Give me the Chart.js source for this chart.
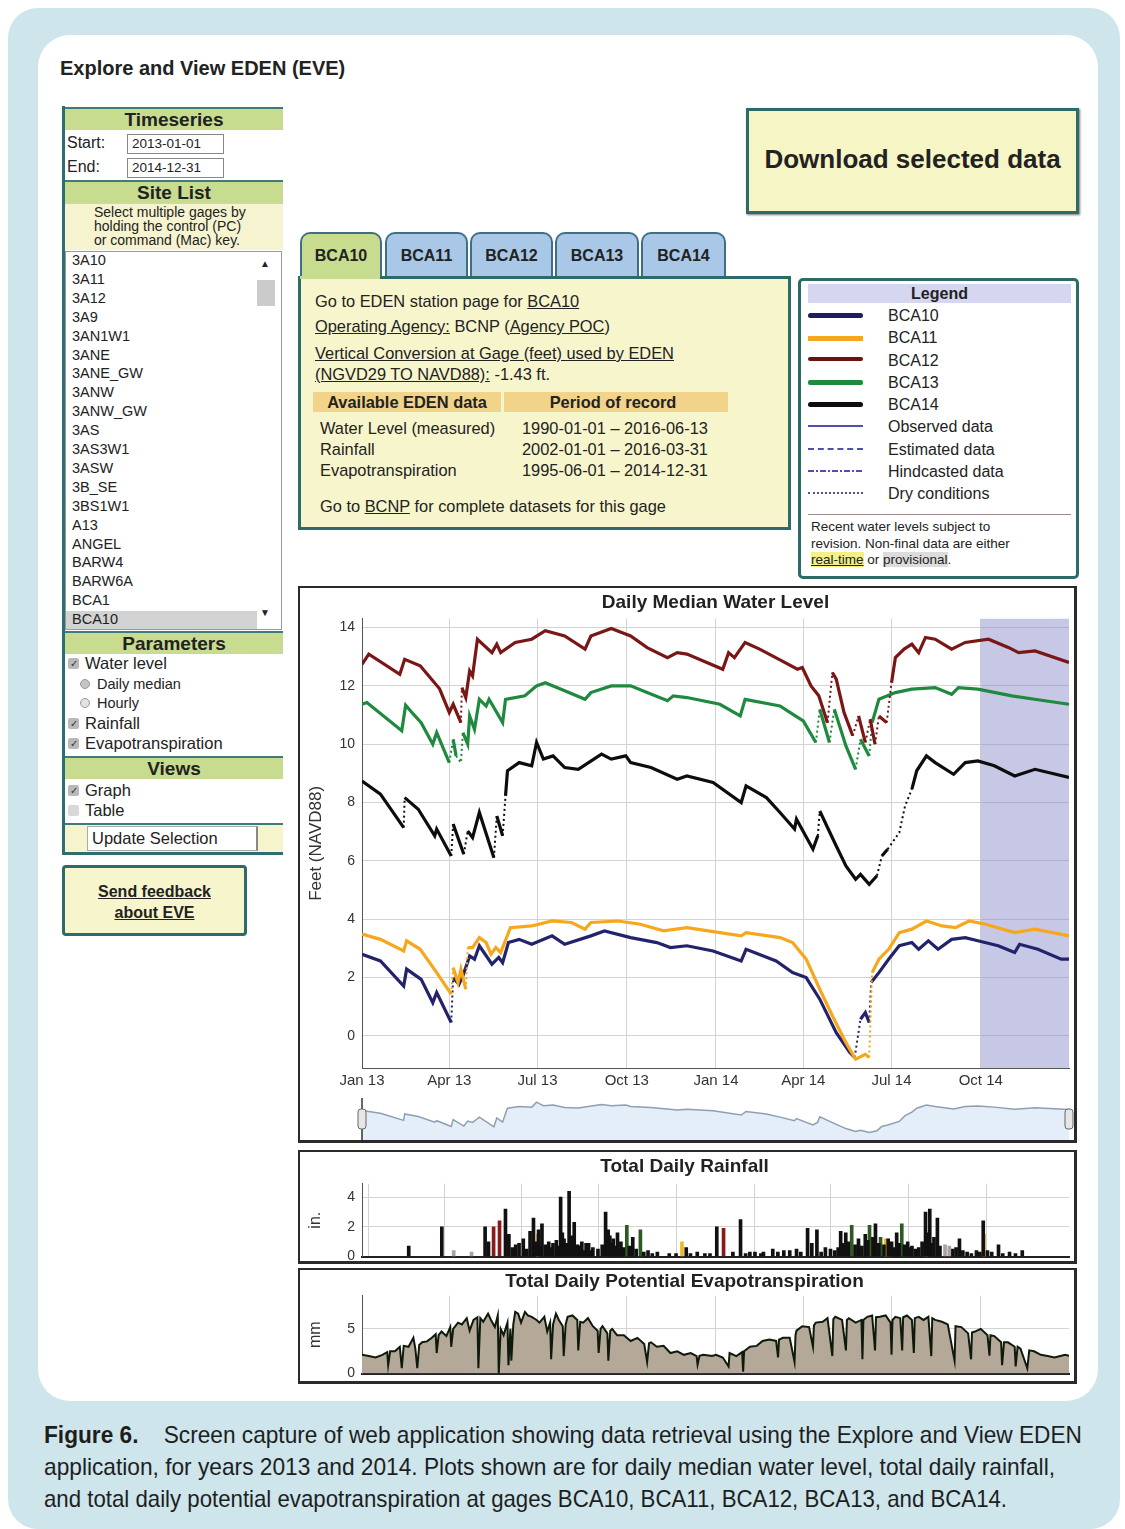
<!DOCTYPE html>
<html>
<head>
<meta charset="utf-8">
<script src="https://cdn.jsdelivr.net/npm/chart.js"></script>
<style>
body { margin: 0; width: 1125px; height: 1529px; position: relative; overflow: hidden; background: #fff;
  font-family: "Liberation Sans", Arial, sans-serif; color: #222; }
div, span.abs, canvas { box-sizing: border-box; }
.abs { position: absolute; }
#frame { left: 8px; top: 8px; width: 1112px; height: 1521px; background: #cde5eb; border-radius: 30px; }
#inner { left: 38px; top: 35px; width: 1060px; height: 1366px; background: #fff; border-radius: 32px; }
#apptitle { left: 60px; top: 57px; font-weight: bold; font-size: 20px; }

.hdr { left: 65px; width: 218px; height: 23px; background: #c8dc8f; border-top: 2px solid #3f7a7c;
  font-weight: bold; font-size: 19px; text-align: center; line-height: 21px; }
.lbl { font-size: 16px; }
.inp { left: 127px; width: 97px; height: 20px; border: 1px solid #888; font-size: 13.5px; line-height: 18px; padding-left: 4px; background: #fff; }
.site { left: 72px; font-size: 14.5px; line-height: 19px; }
.chk { width: 11px; height: 11px; background: #b9b9b9; border-radius: 2px; font-size: 10px; line-height: 11px; color: #333; text-align: center; }
.rad { width: 10px; height: 10px; border-radius: 50%; background: #c4c4c4; border: 1px solid #9a9a9a; }
.par { font-size: 16.5px; }
.sub { font-size: 14.5px; }

.tab { top: 232px; height: 45px; border: 2px solid #3f6f86; border-bottom: none; border-radius: 10px 10px 0 0;
  background: #a9c7e6; font-weight: bold; font-size: 16px; text-align: center; line-height: 44px; }
.info { font-size: 16.4px; white-space: nowrap; }
.u { text-decoration: underline; }
.leg { left: 888px; font-size: 16px; }
.sw { left: 808px; width: 55px; }
.panel { border: 2px solid #2a2a2a; border-right-width: 3px; border-bottom-width: 3px; background: #fff; }
.cap { left: 44px; font-size: 24px; white-space: nowrap; color: #1e1e1e; transform-origin: 0 50%; }
</style>
</head>
<body>
<div id="frame" class="abs"></div>
<div id="inner" class="abs"></div>
<div id="apptitle" class="abs">Explore and View EDEN (EVE)</div>

<!-- sidebar -->
<div class="abs" style="left:62px;top:106px;width:3px;height:749px;background:#2e6e72"></div>
<div class="abs" style="left:62px;top:852px;width:221px;height:3px;background:#2e6e72"></div>
<div class="abs hdr" style="top:107px">Timeseries</div>
<div class="abs lbl" style="left:67px;top:134px">Start:</div>
<div class="abs inp" style="top:134px">2013-01-01</div>
<div class="abs lbl" style="left:67px;top:158px">End:</div>
<div class="abs inp" style="top:158px">2014-12-31</div>
<div class="abs hdr" style="top:180px">Site List</div>
<div class="abs" style="left:65px;top:203px;width:218px;height:47px;background:#f6f4d0;border-top:1px solid #cfd8a8"></div>
<div class="abs" style="left:94px;top:205px;font-size:14px;line-height:14px">Select multiple gages by<br>holding the control (PC)<br>or command (Mac) key.</div>
<div class="abs" style="left:65px;top:251px;width:217px;height:379px;border:1px solid #999;background:#fff"></div>
<div class="abs" style="left:66px;top:611px;width:191px;height:18px;background:#d2d2d2"></div>
<div class="abs" style="left:257px;top:280px;width:18px;height:26px;background:#cbcbcb"></div>
<div class="abs" style="left:260px;top:258px;font-size:10px">&#9650;</div>
<div class="abs" style="left:260px;top:607px;font-size:10px">&#9660;</div>
<div id="sites"></div>
<div class="abs hdr" style="top:631px">Parameters</div>
<div class="abs chk" style="left:68px;top:658px">&#10003;</div>
<div class="abs par" style="left:85px;top:654px">Water level</div>
<div class="abs rad" style="left:80px;top:679px"></div>
<div class="abs sub" style="left:97px;top:676px">Daily median</div>
<div class="abs rad" style="left:80px;top:698px;background:#e2e2e2"></div>
<div class="abs sub" style="left:97px;top:695px">Hourly</div>
<div class="abs chk" style="left:68px;top:718px">&#10003;</div>
<div class="abs par" style="left:85px;top:714px">Rainfall</div>
<div class="abs chk" style="left:68px;top:738px">&#10003;</div>
<div class="abs par" style="left:85px;top:734px">Evapotranspiration</div>
<div class="abs hdr" style="top:756px">Views</div>
<div class="abs chk" style="left:68px;top:785px">&#10003;</div>
<div class="abs par" style="left:85px;top:781px">Graph</div>
<div class="abs chk" style="left:68px;top:805px;background:#d8d8d8"></div>
<div class="abs par" style="left:85px;top:801px">Table</div>
<div class="abs" style="left:65px;top:823px;width:218px;height:29px;background:#f6f4cc;border-top:2px solid #3f7a7c"></div>
<div class="abs" style="left:87px;top:826px;width:171px;height:25px;background:#fff;border:1px solid #aaa;border-right:2px solid #888;font-size:16.5px;line-height:22px;padding-left:4px">Update Selection</div>

<div class="abs" style="left:62px;top:865px;width:185px;height:71px;background:#f6f5cc;border:3px solid #2d6b6b;border-radius:4px;text-align:center;font-weight:bold;font-size:16px;line-height:21px;padding-top:13px"><span class="u">Send feedback</span><br><span class="u">about EVE</span></div>

<!-- download -->
<div class="abs" style="left:746px;top:108px;width:333px;height:106px;background:#f6f5c6;border:3px solid #2d6b6b;box-shadow:1px 1px 2px #777;text-align:center;font-weight:bold;font-size:26px;line-height:96px">Download selected data</div>

<!-- tabs and info -->
<div class="abs tab" style="left:300px;width:82px;background:#c8dc8f;height:47px">BCA10</div>
<div class="abs tab" style="left:385px;width:83px">BCA11</div>
<div class="abs tab" style="left:470px;width:83px">BCA12</div>
<div class="abs tab" style="left:555px;width:84px">BCA13</div>
<div class="abs tab" style="left:641px;width:85px">BCA14</div>
<div class="abs" style="left:298px;top:276px;width:493px;height:254px;background:#f7f5cc;border:3px solid #2d6b6b"></div>
<div class="abs" style="left:300px;top:276px;width:80px;height:3px;background:#c8dc8f"></div>
<div class="abs info" style="left:315px;top:292px">Go to EDEN station page for <span class="u">BCA10</span></div>
<div class="abs info" style="left:315px;top:317px"><span class="u">Operating Agency:</span> BCNP (<span class="u">Agency POC</span>)</div>
<div class="abs info" style="left:315px;top:344px"><span class="u">Vertical Conversion at Gage (feet) used by EDEN</span></div>
<div class="abs info" style="left:315px;top:365px"><span class="u">(NGVD29 TO NAVD88):</span> -1.43 ft.</div>
<div class="abs" style="left:313px;top:392px;width:188px;height:20px;background:#f1d489"></div>
<div class="abs" style="left:504px;top:392px;width:224px;height:20px;background:#f1d489"></div>
<div class="abs info" style="left:313px;top:393px;width:188px;text-align:center;font-weight:bold">Available EDEN data</div>
<div class="abs info" style="left:504px;top:393px;width:218px;text-align:center;font-weight:bold">Period of record</div>
<div class="abs info" style="left:320px;top:418px;line-height:21px">Water Level (measured)<br>Rainfall<br>Evapotranspiration</div>
<div class="abs info" style="left:522px;top:418px;line-height:21px">1990-01-01 &ndash; 2016-06-13<br>2002-01-01 &ndash; 2016-03-31<br>1995-06-01 &ndash; 2014-12-31</div>
<div class="abs info" style="left:320px;top:497px">Go to <span class="u">BCNP</span> for complete datasets for this gage</div>

<!-- legend -->
<div class="abs" style="left:798px;top:278px;width:281px;height:301px;background:#fff;border:3px solid #2d6b6b;border-radius:5px"></div>
<div class="abs" style="left:808px;top:284px;width:263px;height:19px;background:#d5d6ef;text-align:center;font-weight:bold;font-size:16px;line-height:19px">Legend</div>
<div class="abs sw" style="top:313px;height:5px;background:#1d1d60;border-radius:3px"></div>
<div class="abs sw" style="top:336px;height:5px;background:#f6a71c"></div>
<div class="abs sw" style="top:357px;height:4px;background:#6a1111;border-radius:2px"></div>
<div class="abs sw" style="top:380px;height:5px;background:#1f8a3f;border-radius:2px"></div>
<div class="abs sw" style="top:402px;height:5px;background:#0d0d0d;border-radius:3px"></div>
<div class="abs sw" style="top:425px;border-top:2px solid #4f4fb0"></div>
<div class="abs sw" style="top:448px;border-top:2px dashed #4f4fb0"></div>
<div class="abs sw" style="top:470px;height:2px;background:repeating-linear-gradient(90deg,#4f4fb0 0 6px,transparent 6px 8px,#4f4fb0 8px 10px,transparent 10px 12px)"></div>
<div class="abs sw" style="top:492px;border-top:2px dotted #4f4fb0"></div>
<div class="abs leg" style="top:305px;line-height:22.3px">BCA10<br>BCA11<br>BCA12<br>BCA13<br>BCA14<br>Observed data<br>Estimated data<br>Hindcasted data<br>Dry conditions</div>
<div class="abs" style="left:808px;top:514px;width:263px;height:1px;background:#a08c88"></div>
<div class="abs" style="left:811px;top:519px;font-size:13.5px;line-height:16.5px;white-space:nowrap">Recent water levels subject to<br>revision. Non-final data are either<br><span class="u" style="background:#f3f08a">real-time</span> or <span style="background:#dcdcdc">provisional</span>.</div>

<!-- chart panels -->
<div class="abs panel" style="left:298px;top:586px;width:779px;height:557px"></div>
<div class="abs panel" style="left:298px;top:1150px;width:779px;height:114px"></div>
<div class="abs panel" style="left:298px;top:1268px;width:779px;height:116px"></div>
<canvas id="levelChart" class="abs" style="left:300px;top:588px;width:774px;height:510px"></canvas>
<canvas id="navChart" class="abs" style="left:300px;top:1098px;width:774px;height:42px"></canvas>
<canvas id="rainChart" class="abs" style="left:300px;top:1152px;width:774px;height:120px"></canvas>
<canvas id="etChart" class="abs" style="left:300px;top:1270px;width:774px;height:119px"></canvas>

<!-- caption -->
<div class="abs cap" data-w="1038" style="top:1421px"><b>Figure 6.</b>&nbsp;&nbsp;&nbsp; Screen capture of web application showing data retrieval using the Explore and View EDEN</div>
<div class="abs cap" data-w="1011" style="top:1453px">application, for years 2013 and 2014. Plots shown are for daily median water level, total daily rainfall,</div>
<div class="abs cap" data-w="963" style="top:1485px">and total daily potential evapotranspiration at gages BCA10, BCA11, BCA12, BCA13, and BCA14.</div>

<script>
// site list shown in the selector
const siteNames = ['3A10', '3A11', '3A12', '3A9', '3AN1W1', '3ANE', '3ANE_GW', '3ANW', '3ANW_GW', '3AS',
    '3AS3W1', '3ASW', '3B_SE', '3BS1W1', 'A13', 'ANGEL', 'BARW4', 'BARW6A', 'BCA1', 'BCA10'];

// x axis: day number counted from 2013-01-01
const xTickDays = [0, 90, 181, 273, 365, 455, 546, 638];
const xTickLabels = ['Jan 13', 'Apr 13', 'Jul 13', 'Oct 13', 'Jan 14', 'Apr 14', 'Jul 14', 'Oct 14'];
const lastDay = 729;
const provisionalFrom = 638;   // shaded (non-final) period starts Oct 14

const levelTicks = [0, 2, 4, 6, 8, 10, 12, 14];
const rainTicks = [0, 2, 4];
const etTicks = [0, 5];

// daily median water level, feet NAVD88 (null = gap in record)
const bca10Days = [0, 19, 43, 46, 61, 73, 77, 92, 93, 94, 100, 104, 107, 111, 116, 121, 134, 141, 145, 151, 162, 175, 196, 209, 236, 250, 277, 304, 318, 335,
    362, 391, 396, 427, 444, 458, 472, 489, 503, 508, 511, 514, 519, 523, 523.5, 525, 533, 543, 554, 567, 574, 584, 594, 608, 622, 635, 656, 673, 678, 697, 721, 729];
const bca10Ft = [2.8, 2.57, 1.71, 2.29, 1.94, 1.14, 1.49, 0.46, null, 2.0, 1.77, 2.06, 2.34, 2.74, 2.63, 3.09, 2.46, 2.69, 2.51, 3.2, 3.31, 3.14, 3.43, 3.14, 3.43, 3.6, 3.37, 3.2, 3.03, 3.09,
    2.91, 2.57, 2.97, 2.57, 2.17, 2.0, 1.26, 0.11, -0.57, -0.74, null, 0.57, 0.8, 0.46, null, 1.83, 2.17, 2.63, 3.09, 3.2, 2.97, 3.26, 2.97, 3.31, 3.37, 3.26, 3.09, 2.86, 3.14, 2.97, 2.63, 2.63];

const bca11Days = [0, 19, 43, 46, 60, 77, 92, 93, 94, 99, 102, 107, 108, 109, 114, 121, 128, 133, 138, 143, 153, 175, 196, 216, 230, 236, 264, 287, 311, 335,
    369, 391, 396, 431, 444, 458, 472, 485, 499, 509, 519, 523, 524, 526, 533, 543, 554, 567, 582, 598, 612, 626, 643, 673, 694, 729];
const bca11Ft = [3.49, 3.31, 2.91, 3.26, 2.97, 2.17, 1.43, null, 2.34, 1.83, 2.29, 1.6, null, 3.03, 3.03, 3.37, 3.2, 2.8, 3.03, 2.86, 3.71, 3.77, 3.94, 3.89, 3.66, 3.89, 3.94, 3.83, 3.6, 3.71,
    3.54, 3.43, 3.54, 3.37, 3.2, 2.63, 1.6, 0.69, -0.23, -0.8, -0.63, -0.74, null, 2.17, 2.63, 2.97, 3.54, 3.66, 3.94, 3.77, 3.71, 3.94, 3.83, 3.54, 3.66, 3.43];

const bca12Days = [0, 7, 39, 44, 60, 80, 90, 94, 102, 102.5, 103, 107, 111, 114, 119, 134, 139, 143, 158, 175, 189, 209, 230, 236, 257, 277, 294, 315, 325, 335,
    372, 378, 384, 395, 410, 430, 449, 454, 463, 471, 480, 482, 485, 489, 497, 506, 509, 512, 519, 522, 524, 529, 531, 533, 541, 543,
    546, 550, 559, 567, 574, 581, 591, 608, 622, 646, 667, 677, 694, 729];
const bca12Ft = [12.74, 13.09, 12.4, 12.91, 12.69, 11.9, 11.09, 11.37, 10.74, null, 11.94, 11.6, 12.51, 12.34, 13.6, 13.14, 13.43, 13.14, 13.49, 13.6, 13.89, 13.71, 13.26, 13.71, 13.97, 13.71, 13.31, 12.97, 13.14, 13.09,
    12.57, 13.14, 12.97, 13.49, 13.26, 12.91, 12.57, 12.63, 12.0, 11.66, 10.74, null, 12.46, 12.23, 11.09, 10.29, null, 10.97, 10.06, null, 10.86, 10.0, null, 10.97, 10.74, null,
    12.11, 12.97, 13.26, 13.43, 13.14, 13.66, 13.6, 13.26, 13.49, 13.6, 13.31, 13.14, 13.2, 12.8];

const bca13Days = [0, 5, 41, 45, 53, 61, 73, 77, 90, 92, 94, 97, 99, 102, 103, 104, 109, 111, 116, 121, 128, 131, 145, 148, 168, 180, 189, 209, 230, 236, 257, 277, 294, 315, 321, 335,
    369, 390, 395, 431, 444, 455, 468, 470, 472, 482, 484, 487, 499, 509, 511, 514, 523, 524, 526, 533, 550, 567, 591, 608, 615, 635, 670, 704, 729];
const bca13Ft = [11.37, 11.43, 10.46, 11.34, 11.03, 10.74, 10.0, 10.4, 9.37, null, 10.17, 9.6, null, 9.37, null, 10.4, 10.0, 10.97, 10.51, 11.54, 11.31, 11.54, 10.74, 11.54, 11.66, 12.0, 12.11, 11.83, 11.54, 11.77, 12.0, 12.0, 11.77, 11.49, 11.66, 11.6,
    11.37, 10.97, 11.54, 11.31, 11.03, 10.8, 10.06, null, 11.2, 10.06, null, 11.2, 9.94, 9.14, null, 10.17, 9.6, null, 10.74, 11.54, 11.77, 11.89, 11.94, 11.71, 11.94, 11.89, 11.66, 11.49, 11.37];

const bca14Days = [0, 19, 43, 43.5, 44, 58, 75, 77, 92, 93, 94, 105, 107, 109, 114, 121, 136, 137, 139, 145, 147, 148, 150, 162, 175, 180, 187, 197, 209, 223, 247, 257, 272, 277, 298, 325, 335,
    362, 391, 396, 417, 431, 446, 448, 465, 470, 471, 472, 489, 499, 509, 514, 523, 531, 533, 536, 542, 546, 554, 557, 560, 564, 567, 572, 582, 591, 610, 622, 635, 652, 673, 694, 729];
const bca14Ft = [8.74, 8.29, 7.14, null, 8.17, 7.77, 6.86, 7.09, 6.17, null, 7.26, 6.23, null, 7.03, 6.8, 7.66, 6.11, null, 7.54, 6.86, null, 8.23, 9.09, 9.37, 9.26, 10.06, 9.49, 9.6, 9.2, 9.14, 9.66, 9.49, 9.6, 9.37, 9.2, 8.8, 8.91,
    8.69, 8.0, 8.57, 8.17, 7.66, 7.09, 7.43, 6.4, 6.86, null, 7.71, 6.51, 5.83, 5.37, 5.54, 5.2, 5.49, null, 6.17, 6.4, null, 6.97, null, 7.89, null, 8.46, 9.09, 9.6, 9.37, 8.97, 9.37, 9.43, 9.26, 8.91, 9.14, 8.86];

// total daily rainfall, inches (colour groups follow the gage drawn on top)
const rainDays = [3, 42, 93, 97, 117, 121, 125, 129, 133, 138, 142, 146, 150, 152, 156, 158, 160, 164, 168, 170, 173, 177, 179, 182, 184, 186, 189, 192, 195, 198,
    200, 202, 205, 207, 210, 212, 215, 218, 220, 226, 231, 235, 238, 240, 242, 244, 247, 249, 251, 253, 256, 263, 267, 271, 280, 285, 290, 296, 310, 318,
    330, 335, 343, 352, 358, 366, 385, 394, 400, 405, 411, 418, 421, 432, 438, 445, 452, 460, 465, 473, 478, 484, 489, 494, 500, 505, 509, 512, 515, 518,
    521, 529, 533, 537, 541, 544, 550, 553, 557, 563, 568, 572, 575, 578, 581, 587, 591, 593, 596, 600, 604, 608, 612, 614, 617, 620, 622, 626, 629, 644,
    648, 652, 656, 661, 666, 672, 676, 680, 685, 690, 698, 703, 711, 718, 726];
const rainIn = [0.7, 2.0, 2.0, 1.0, 3.2, 1.5, 0.6, 0.8, 0.9, 1.2, 0.5, 1.7, 2.6, 1.0, 1.8, 0.7, 2.2, 0.8, 1.0, 0.6, 0.9, 1.1, 0.7, 4.0, 1.6, 1.2, 0.9, 4.4, 1.4, 2.3,
    0.5, 0.8, 0.7, 1.0, 0.4, 0.9, 0.9, 0.4, 0.6, 0.5, 0.8, 3.0, 1.8, 1.4, 0.9, 1.2, 0.7, 1.6, 0.5, 1.0, 0.6, 0.7, 1.3, 0.5, 0.3, 0.4, 0.2, 0.3, 0.2, 0.2,
    0.6, 0.2, 0.3, 0.2, 0.2, 2.0, 0.3, 2.5, 0.2, 0.3, 0.3, 0.2, 0.3, 0.5, 0.3, 0.4, 0.4, 0.5, 0.3, 1.9, 0.9, 1.8, 0.3, 0.6, 0.5, 0.4, 0.6, 1.7, 0.9, 1.6,
    1.0, 0.8, 1.2, 0.7, 1.5, 1.1, 1.3, 2.2, 0.9, 0.8, 1.2, 1.0, 0.6, 1.6, 0.9, 0.8, 1.0, 0.6, 0.7, 0.5, 0.6, 1.0, 3.0, 1.6, 3.2, 0.9, 1.3, 2.6, 0.7, 0.5,
    0.6, 1.2, 0.4, 0.3, 0.2, 0.4, 0.3, 2.4, 0.4, 0.3, 0.8, 0.2, 0.3, 0.2, 0.4];
const rainGreenDays = [260, 276, 518, 525, 533, 546, 552, 559, 570, 584, 590];
const rainGreenIn = [2.1, 1.8, 0.9, 2.1, 0.8, 2.1, 1.0, 1.3, 0.9, 2.2, 0.7];
const rainRedDays = [103, 110, 374];
const rainRedIn = [2.0, 2.4, 1.9];
const rainGreyDays = [56, 77, 635, 640];
const rainGreyIn = [0.4, 0.3, 0.8, 0.7];
const rainYellowDays = [155, 325, 565, 613, 681];
const rainYellowIn = [1.5, 1.0, 1.2, 1.4, 1.5];

// total daily potential evapotranspiration, mm
const etDays = [0, 7, 14, 21, 26, 27, 29, 34, 39, 41, 43, 48, 53, 55, 57, 59, 62, 67, 72, 76, 77, 79, 82, 87, 91, 92, 94, 99, 103, 108, 111, 115, 119, 120, 122, 125,
    130, 133, 137, 140, 141, 143, 146, 150, 151, 153, 154, 156, 158, 161, 164, 168, 171, 175, 180, 183, 188, 191, 194, 195, 197, 200, 203, 207, 208, 210, 212, 217,
    222, 223, 225, 228, 233, 238, 243, 244, 246, 248, 253, 254, 256, 258, 263, 270, 277, 284, 291, 294, 296, 298, 304, 311, 318, 325, 332, 339, 345, 346, 348, 352, 361,
    365, 372, 378, 379, 386, 392, 393, 394, 400, 407, 413, 420, 427, 429, 430, 434, 441, 446, 447, 448, 454, 461, 465, 466, 468, 475, 480, 485, 486, 488, 495, 499, 500,
    502, 509, 515, 516, 517, 521, 526, 529, 530, 534, 540, 545, 546, 547, 550, 555, 557, 558, 562, 567, 569, 570, 574, 579, 584, 587, 588, 591, 598, 604, 611, 612, 618,
    625, 628, 629, 632, 638, 645, 647, 648, 652, 659, 660, 662, 666, 673, 674, 676, 679, 686, 688, 693, 700, 707, 714, 720, 725, 729];
const etMm = [2.1, 1.96, 1.8, 2.1, 2.4, 0.95, 2.5, 2.5, 3.0, 0.6, 3.1, 3.0, 4.0, 2.8, 0.6, 3.2, 3.5, 3.6, 4.0, 4.4, 2.3, 4.3, 4.7, 4.2, 5.2, 3.0, 5.0, 5.7, 5.5, 6.2, 4.8, 6.0, 6.3, 0.6, 6.2, 5.8,
    6.7, 6.0, 5.2, 6.5, 0.0, 5.0, 4.3, 5.7, 0.95, 5.0, 1.45, 5.5, 6.9, 6.7, 5.7, 6.9, 6.5, 6.35, 6.0, 5.7, 6.35, 4.7, 5.7, 1.6, 5.5, 6.7, 6.0, 5.3, 1.96, 5.5, 6.35, 6.5,
    6.0, 2.6, 5.8, 5.7, 6.2, 5.3, 4.8, 2.3, 5.0, 5.3, 4.5, 1.45, 4.8, 5.0, 4.3, 4.3, 3.65, 4.0, 3.3, 1.3, 3.4, 3.5, 3.0, 3.1, 2.3, 2.5, 2.1, 2.3, 1.96, 1.0, 2.0, 2.1, 1.96,
    2.1, 1.8, 0.8, 2.3, 1.96, 2.4, 0.2, 2.5, 3.0, 3.1, 3.65, 3.8, 3.65, 1.8, 3.8, 4.0, 4.0, 1.3, 4.3, 4.8, 5.3, 5.2, 3.0, 5.4, 5.7, 5.8, 6.2, 1.96, 6.1, 6.35, 6.0, 2.6, 6.0,
    6.2, 5.7, 6.0, 1.6, 6.0, 6.35, 6.5, 2.6, 6.3, 6.35, 6.5, 5.7, 2.1, 6.0, 6.35, 6.2, 2.6, 6.3, 6.5, 6.0, 2.3, 6.2, 6.35, 6.0, 6.35, 1.96, 6.2, 6.0, 5.8, 5.5, 1.45, 5.3, 5.2,
    4.5, 1.6, 4.6, 4.7, 5.0, 4.3, 2.0, 4.3, 4.2, 3.5, 0.95, 3.5, 3.5, 3.0, 0.8, 3.0, 2.8, 0.6, 2.6, 2.5, 2.1, 1.96, 1.8, 1.96, 2.1, 2.0];

// ---------------------------------------------------------------

document.getElementById('sites').innerHTML = siteNames
    .map((s, i) => `<div class="abs site" style="top:${251 + i * 18.9}px">${s}</div>`).join('');

// squeeze caption lines to the printed line widths
document.querySelectorAll('.cap').forEach(el => {
    const w = el.getBoundingClientRect().width;
    el.style.transform = `scaleX(${(+el.dataset.w / w).toFixed(4)})`;
});

Chart.defaults.font.family = '"Liberation Sans", Arial, sans-serif';
Chart.defaults.color = '#333';
Chart.defaults.animation = false;
Chart.defaults.responsive = false;

const pts = (days, vals) => days.map((d, i) => ({ x: d, y: vals[i] }));
const gapped = (ctx, value) => (ctx.p0.skip || ctx.p1.skip) ? value : undefined;

function sizeCanvas(id) {
    const c = document.getElementById(id);
    c.width = parseInt(c.style.width);
    c.height = parseInt(c.style.height);
    return c;
}

function dayAxis(showLabels) {
    return {
        type: 'linear', min: 0, max: lastDay,
        afterBuildTicks: s => { s.ticks = xTickDays.map(v => ({ value: v })); },
        afterFit: s => { s.height = showLabels ? 30 : 3; },
        grid: { color: '#d3d3d3', drawTicks: false },
        border: { color: showLabels ? '#555' : '#222', width: showLabels ? 1 : 2 },
        ticks: { display: showLabels, padding: 4, font: { size: 15 }, callback: (v, i) => xTickLabels[i] }
    };
}

function valueAxis(min, max, tickList, title, titleSize) {
    return {
        min: min, max: max,
        afterBuildTicks: s => { s.ticks = tickList.map(v => ({ value: v })); },
        afterFit: s => { s.width = 62; },
        grid: { color: '#d3d3d3', drawTicks: false },
        border: { color: '#555' },
        ticks: { padding: 7, font: { size: 14 } },
        title: { display: true, text: title, font: { size: titleSize }, padding: { top: 6, bottom: 0 } }
    };
}

// overPlot: centre on the plotting area (main chart) or on the whole panel (small charts)
function chartTitle(text, top, bottom, overPlot) {
    return { display: true, text: text, fullSize: !overPlot, color: '#222',
        font: { size: 19, weight: 'bold' }, padding: { top: top, bottom: bottom } };
}

function stationLine(label, days, vals, color) {
    return {
        label: label,
        data: pts(days, vals),
        borderColor: color,
        borderWidth: 3.2,
        pointRadius: 0,
        spanGaps: true,
        segment: {
            borderDash: ctx => gapped(ctx, [2, 3]),
            borderWidth: ctx => gapped(ctx, 2)
        }
    };
}

const bandPlugin = {
    id: 'band',
    beforeDatasetsDraw(chart) {
        const { ctx, chartArea, scales } = chart;
        const x0 = scales.x.getPixelForValue(provisionalFrom);
        ctx.save();
        ctx.fillStyle = 'rgba(130,133,200,0.45)';
        ctx.fillRect(x0, chartArea.top, chartArea.right - x0, chartArea.bottom - chartArea.top);
        ctx.restore();
    }
};

new Chart(sizeCanvas('levelChart'), {
    type: 'line',
    data: {
        datasets: [
            stationLine('BCA12', bca12Days, bca12Ft, '#7a1616'),
            stationLine('BCA13', bca13Days, bca13Ft, '#1f8a3f'),
            stationLine('BCA14', bca14Days, bca14Ft, '#0d0d0d'),
            stationLine('BCA11', bca11Days, bca11Ft, '#f6a71c'),
            stationLine('BCA10', bca10Days, bca10Ft, '#23236b')
        ]
    },
    options: {
        layout: { padding: { right: 5 } },
        scales: {
            x: dayAxis(true),
            y: valueAxis(-1.1, 14.3, levelTicks, 'Feet (NAVD88)', 17)
        },
        plugins: {
            legend: { display: false },
            tooltip: { enabled: false },
            title: chartTitle('Daily Median Water Level', 3, 5, true)
        }
    },
    plugins: [bandPlugin]
});

// range navigator under the main chart
const handlePlugin = {
    id: 'handles',
    afterDraw(chart) {
        const { ctx, chartArea } = chart;
        ctx.save();
        ctx.strokeStyle = '#333';
        ctx.lineWidth = 1.5;
        ctx.beginPath();
        ctx.moveTo(chartArea.left, chartArea.top - 2);
        ctx.lineTo(chartArea.left, chartArea.bottom);
        ctx.stroke();
        [chartArea.left, chartArea.right].forEach(x => {
            ctx.fillStyle = '#e6e6e6';
            ctx.strokeStyle = '#666';
            ctx.lineWidth = 1;
            ctx.beginPath();
            ctx.roundRect(x - 4, chartArea.top + 9, 8, 20, 3);
            ctx.fill();
            ctx.stroke();
        });
        ctx.restore();
    }
};

new Chart(sizeCanvas('navChart'), {
    type: 'line',
    data: {
        datasets: [{
            data: pts(bca14Days, bca14Ft),
            borderColor: '#8f9eb4',
            borderWidth: 1.5,
            backgroundColor: '#e4eef8',
            fill: 'start',
            pointRadius: 0,
            spanGaps: true
        }]
    },
    options: {
        layout: { padding: { left: 62, right: 5, top: 2, bottom: 0 } },
        scales: {
            x: { type: 'linear', min: 0, max: lastDay, display: false },
            y: { min: 4, max: 10.4, display: false }
        },
        plugins: { legend: { display: false }, tooltip: { enabled: false } }
    },
    plugins: [handlePlugin]
});

function rainSet(days, vals, color) {
    return { data: pts(days, vals), backgroundColor: color, barThickness: 3, grouped: false };
}

new Chart(sizeCanvas('rainChart'), {
    type: 'bar',
    data: {
        datasets: [
            rainSet(rainGreyDays, rainGreyIn, '#a9a2a0'),
            rainSet(rainDays, rainIn, '#111111'),
            rainSet(rainGreenDays, rainGreenIn, '#2e5a22'),
            rainSet(rainRedDays, rainRedIn, '#8a1a1a'),
            rainSet(rainYellowDays, rainYellowIn, '#f0b526')
        ]
    },
    options: {
        layout: { padding: { right: 5 } },
        scales: {
            x: dayAxis(false),
            y: valueAxis(0, 4.9, rainTicks, 'in.', 16)
        },
        plugins: {
            legend: { display: false },
            tooltip: { enabled: false },
            title: chartTitle('Total Daily Rainfall', 3, 6, false)
        }
    }
});

new Chart(sizeCanvas('etChart'), {
    type: 'line',
    data: {
        datasets: [{
            data: pts(etDays, etMm),
            borderColor: '#101a0c',
            borderWidth: 2,
            backgroundColor: '#b4a998',
            fill: 'origin',
            pointRadius: 0
        }]
    },
    options: {
        layout: { padding: { right: 5 } },
        scales: {
            x: dayAxis(false),
            y: valueAxis(0, 8.7, etTicks, 'mm', 16)
        },
        plugins: {
            legend: { display: false },
            tooltip: { enabled: false },
            title: chartTitle('Total Daily Potential Evapotranspiration', 0, 3, false)
        }
    }
});
</script>
</body>
</html>
